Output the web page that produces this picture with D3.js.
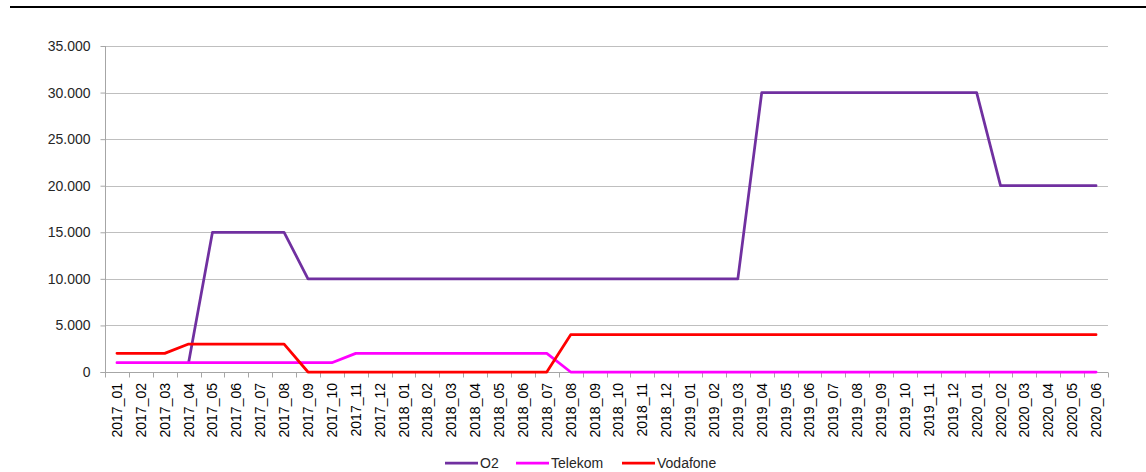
<!DOCTYPE html>
<html><head><meta charset="utf-8">
<script src="https://cdn.jsdelivr.net/npm/d3@7"></script>
<style>body{margin:0;background:#fff}svg{display:block}</style>
</head><body>
<svg id="c" width="1146" height="472"></svg>
<script>
const categories = ["2017_01","2017_02","2017_03","2017_04","2017_05","2017_06","2017_07","2017_08","2017_09","2017_10","2017_11","2017_12",
"2018_01","2018_02","2018_03","2018_04","2018_05","2018_06","2018_07","2018_08","2018_09","2018_10","2018_11","2018_12",
"2019_01","2019_02","2019_03","2019_04","2019_05","2019_06","2019_07","2019_08","2019_09","2019_10","2019_11","2019_12",
"2020_01","2020_02","2020_03","2020_04","2020_05","2020_06"];
const o2 = [null,null,null,1000,15000,15000,15000,15000,10000,10000,10000,10000,
10000,10000,10000,10000,10000,10000,10000,10000,10000,10000,10000,10000,
10000,10000,10000,30000,30000,30000,30000,30000,30000,30000,30000,30000,
30000,20000,20000,20000,20000,20000];
const telekom = [1000,1000,1000,1000,1000,1000,1000,1000,1000,1000,2000,2000,
2000,2000,2000,2000,2000,2000,2000,0,0,0,0,0,
0,0,0,0,0,0,0,0,0,0,0,0,
0,0,0,0,0,0];
const vodafone = [2000,2000,2000,3000,3000,3000,3000,3000,0,0,0,0,
0,0,0,0,0,0,0,4000,4000,4000,4000,4000,
4000,4000,4000,4000,4000,4000,4000,4000,4000,4000,4000,4000,
4000,4000,4000,4000,4000,4000];
const yTicks = [0,5000,10000,15000,20000,25000,30000,35000];
const seriesNames = ["O2","Telekom","Vodafone"];
const seriesColors = ["#7030A0","#FF00FF","#FF0000"];
const seriesData = [o2, telekom, vodafone];

const svg = d3.select("#c");
const font = "'Liberation Sans', Arial, sans-serif";
const L = 105, R = 1108, T = 46, B = 372;

svg.append("line").attr("x1",10).attr("x2",1146).attr("y1",7).attr("y2",7)
  .attr("stroke","#000").attr("stroke-width",2);

const x = d3.scaleBand().domain(categories).range([L,R]).padding(0);
const y = d3.scaleLinear().domain([0,35000]).range([B,T]);
const fmt = v => v === 0 ? "0" : d3.format(",")(v).replace(/,/g,".");

// gridlines
svg.append("g").selectAll("line").data(yTicks.filter(d=>d>0)).join("line")
  .attr("x1",L).attr("x2",R).attr("y1",d=>Math.round(y(d))+0.5).attr("y2",d=>Math.round(y(d))+0.5)
  .attr("stroke","#BFBFBF").attr("stroke-width",1);

// y axis
const ya = svg.append("g").attr("transform",`translate(${L+0.5},0)`)
  .call(d3.axisLeft(y).tickValues(yTicks).tickFormat(fmt).tickSize(5).tickPadding(10));
ya.select(".domain").attr("stroke","#A6A6A6").attr("d",`M-5,${B+0.5}H0V${T}`);
ya.selectAll(".tick line").attr("stroke","#A6A6A6");
ya.selectAll(".tick text").attr("font-family",font).attr("font-size",14).attr("fill","#262626");

// x axis
const xa = svg.append("g").attr("transform",`translate(0,${B+0.5})`);
xa.append("line").attr("x1",L).attr("x2",R).attr("stroke","#A6A6A6");
const bounds = d3.range(categories.length+1).map(i => L + i*x.step());
xa.selectAll("line.tk").data(bounds).join("line").attr("class","tk")
  .attr("x1",d=>Math.round(d)+0.5).attr("x2",d=>Math.round(d)+0.5).attr("y1",0).attr("y2",5)
  .attr("stroke","#A6A6A6");
xa.selectAll("text").data(categories).join("text")
  .attr("transform",d=>`translate(${x(d)+x.bandwidth()/2+5},10.5) rotate(-90)`)
  .attr("text-anchor","end").attr("font-family",font).attr("font-size",14).attr("fill","#000")
  .text(d=>d);

// lines
const line = d3.line().defined(d=>d.v!==null).x(d=>x(d.c)+x.bandwidth()/2).y(d=>y(d.v));
seriesData.forEach((s,i)=>{
  svg.append("path").datum(categories.map((c,j)=>({c,v:s[j]})))
    .attr("d",line).attr("fill","none").attr("stroke",seriesColors[i])
    .attr("stroke-width",2.75).attr("stroke-linejoin","round").attr("stroke-linecap","round");
});

// legend
const legX = [445,516,622];
const lg = svg.append("g");
seriesNames.forEach((n,i)=>{
  lg.append("line").attr("x1",legX[i]).attr("x2",legX[i]+33).attr("y1",463).attr("y2",463)
    .attr("stroke",seriesColors[i]).attr("stroke-width",2.75);
  lg.append("text").attr("x",legX[i]+35).attr("y",468).attr("font-family",font).attr("font-size",14)
    .attr("fill","#262626").text(n);
});
</script>
</body></html>
